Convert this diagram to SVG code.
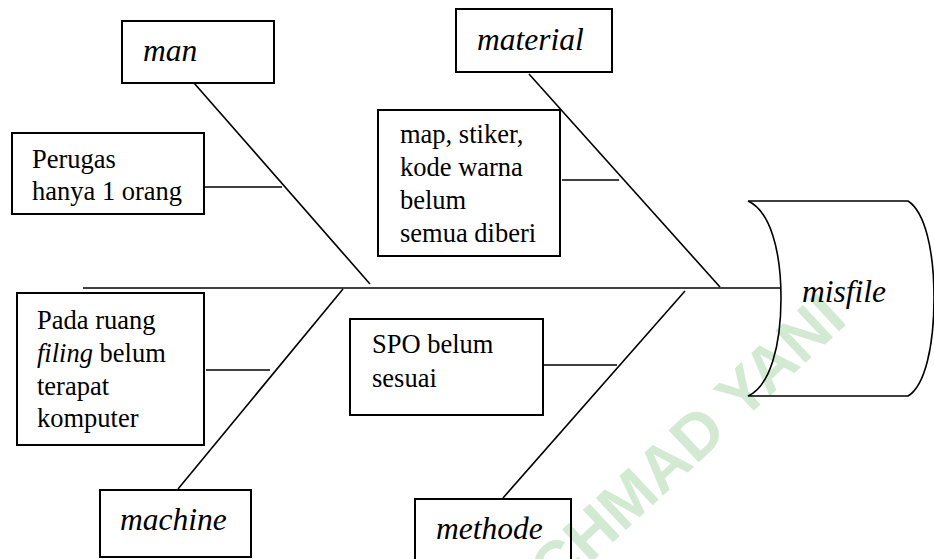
<svg xmlns="http://www.w3.org/2000/svg" width="934" height="559" viewBox="0 0 934 559">
<style>
.box{fill:none;stroke:#000;stroke-width:2}
.ln{stroke:#000;stroke-width:1.6;fill:none}
.t{font-size:26.5px;fill:#000}
.lbl{font-size:31.5px;font-style:italic;fill:#000}
.wm{font-weight:bold;font-size:64px;fill:#d2ead1}
</style>
<rect width="934" height="559" fill="#fff"/>
<g id="watermark" font-family="Liberation Sans">
<text class="wm" text-anchor="end" transform="translate(849,322) rotate(-43)">JENDERAL ACHMAD YANI</text>
</g>
<g id="connectors">
<line class="ln" x1="83" y1="288" x2="780" y2="288"/>
<line class="ln" x1="194" y1="83" x2="370" y2="284"/>
<line class="ln" x1="529" y1="74" x2="720" y2="287"/>
<line class="ln" x1="343" y1="289" x2="178" y2="489"/>
<line class="ln" x1="685" y1="291" x2="503" y2="498"/>
<line class="ln" x1="205" y1="187" x2="282" y2="187"/>
<line class="ln" x1="562" y1="180" x2="619" y2="180"/>
<line class="ln" x1="206" y1="370" x2="270" y2="370"/>
<line class="ln" x1="544" y1="365" x2="617" y2="365"/>
</g>
<g font-family="Liberation Serif">
<g id="man">
<rect class="box" x="122" y="21" width="152" height="62"/>
<text class="lbl" x="143" y="61">man</text>
</g>
<g id="material">
<rect class="box" x="456" y="9" width="156" height="63"/>
<text class="lbl" x="477" y="50">material</text>
</g>
<g id="machine">
<rect class="box" x="100" y="490" width="151" height="67"/>
<text class="lbl" x="120" y="530">machine</text>
</g>
<g id="methode">
<rect class="box" x="415" y="499" width="156" height="70"/>
<text class="lbl" x="436" y="539">methode</text>
</g>
<g id="cause-man">
<rect class="box" x="12" y="133" width="192" height="81"/>
<text class="t" x="32" y="168">Perugas</text>
<text class="t" x="32" y="200">hanya 1 orang</text>
</g>
<g id="cause-material">
<rect class="box" x="378" y="110" width="182" height="146"/>
<text class="t" x="400" y="143">map, stiker,</text>
<text class="t" x="400" y="176">kode warna</text>
<text class="t" x="400" y="209">belum</text>
<text class="t" x="400" y="242">semua diberi</text>
</g>
<g id="cause-machine">
<rect class="box" x="17" y="293" width="187" height="152"/>
<text class="t" x="37" y="329">Pada ruang</text>
<text class="t" x="37" y="362"><tspan font-style="italic">filing</tspan> belum</text>
<text class="t" x="37" y="395">terapat</text>
<text class="t" x="37" y="427">komputer</text>
</g>
<g id="cause-methode">
<rect class="box" x="350" y="319" width="193" height="96"/>
<text class="t" x="372" y="353">SPO belum</text>
<text class="t" x="372" y="387">sesuai</text>
</g>
<g id="misfile">
<path class="ln" stroke-width="2" d="M748,201 L908,201 C925,212 934,250 934,298 C934,346 925,386 908,396 L748,396 C770,386 781,346 781,298 C781,250 770,211 748,201 Z"/>
<text class="lbl" x="802" y="302">misfile</text>
</g>
</g>
</svg>
